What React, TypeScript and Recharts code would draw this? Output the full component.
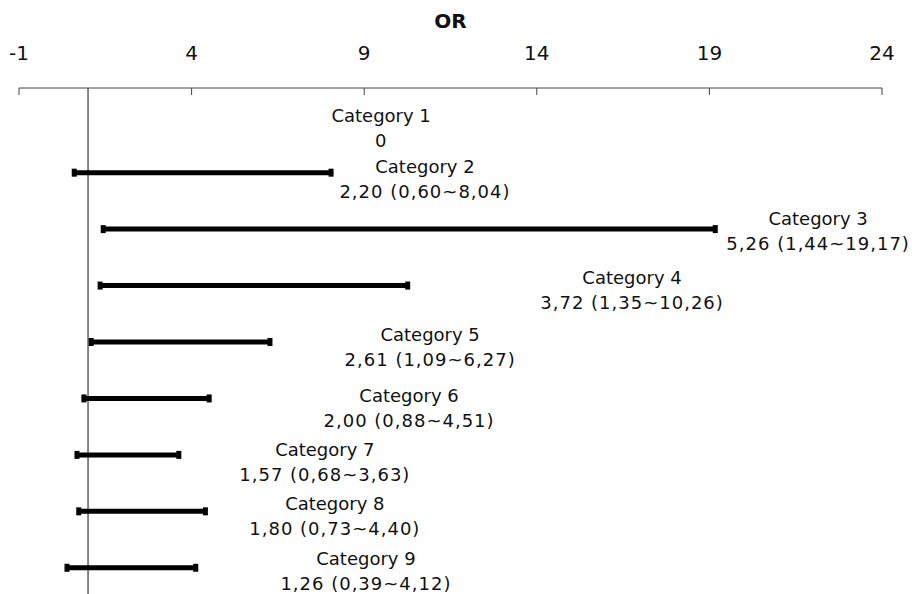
import {
    ScatterChart,
    Scatter,
    XAxis,
    YAxis,
    ErrorBar,
    ReferenceLine,
} from 'recharts';

// Odds ratios with 95% CI, Category 1 is the reference group
const categories = [
    'Category 1', 'Category 2', 'Category 3', 'Category 4', 'Category 5',
    'Category 6', 'Category 7', 'Category 8', 'Category 9',
];
const oddsRatio = [0, 2.2, 5.26, 3.72, 2.61, 2.0, 1.57, 1.8, 1.26];
const ciLower = [null, 0.6, 1.44, 1.35, 1.09, 0.88, 0.68, 0.73, 0.39];
const ciUpper = [null, 8.04, 19.17, 10.26, 6.27, 4.51, 3.63, 4.4, 4.12];
const xTicks = [-1, 4, 9, 14, 19, 24];

// where each text block sits: x in OR units, y in row units
const labelX = [9.49, 10.76, 22.15, 16.76, 10.91, 10.3, 7.86, 8.15, 9.05];
const labelRow = [1.21, 2.12, 3.04, 4.07, 5.08, 6.17, 7.13, 8.09, 9.06];

const fmt = (v: number) => v.toFixed(2).replace('.', ',');

const barData = categories
    .map((name, i) => ({
        name,
        x: oddsRatio[i],
        y: i + 1,
        lo: ciLower[i],
        hi: ciUpper[i],
    }))
    .filter(d => d.lo != null && d.hi != null)
    .map(d => ({ ...d, err: [d.x - (d.lo as number), (d.hi as number) - d.x] }));

const labelData = categories.map((name, i) => ({
    name,
    x: labelX[i],
    y: labelRow[i],
    text: ciLower[i] == null
        ? String(oddsRatio[i])
        : `${fmt(oddsRatio[i])} (${fmt(ciLower[i] as number)}~${fmt(ciUpper[i] as number)})`,
}));

const AxisTick = ({ x, y, payload }: any) => (
    <g>
        <text
            x={x}
            y={y - 28}
            textAnchor="middle"
            fontFamily="DejaVu Sans"
            fontSize={20}
            fill="#111"
        >
            {payload.value}
        </text>
        <line x1={x} x2={x} y1={y} y2={y + 7} stroke="#444" />
    </g>
);

const LabelBlock = ({ cx, cy, payload }: any) => (
    <g fontFamily="DejaVu Sans" fontSize={18} fill="#111">
        <text x={cx} y={cy - 12.5 + 6.5} textAnchor="middle">{payload.name}</text>
        <text x={cx} y={cy + 12.5 + 6.5} textAnchor="middle" letterSpacing={1}>
            {payload.text}
        </text>
    </g>
);

export default function App() {
    return (
        <div style={{ position: 'absolute', left: 0, top: 0, width: 912, height: 594, overflow: 'hidden', background: '#fff' }}>
            <div
                style={{
                    position: 'absolute',
                    left: 19,
                    width: 863,
                    top: 9,
                    textAlign: 'center',
                    fontFamily: 'DejaVu Sans',
                    fontWeight: 'bold',
                    fontSize: 20,
                    color: '#111',
                }}
            >
                OR
            </div>
            <ScatterChart
                width={912}
                height={596}
                margin={{ top: 0, right: 30, bottom: 0, left: 19 }}
            >
                <XAxis
                    type="number"
                    dataKey="x"
                    orientation="top"
                    domain={[-1, 24]}
                    ticks={xTicks}
                    height={88}
                    tickSize={0}
                    tickMargin={0}
                    tickLine={false}
                    tick={<AxisTick />}
                    axisLine={{ stroke: '#444' }}
                />
                <YAxis
                    type="number"
                    dataKey="y"
                    domain={[0.5, 9.5]}
                    reversed
                    hide
                />
                <ReferenceLine x={1} stroke="#111" strokeWidth={1} />
                <Scatter data={barData} isAnimationActive={false} shape={() => <g />}>
                    <ErrorBar
                        dataKey="err"
                        direction="x"
                        width={4}
                        strokeWidth={5}
                        stroke="#000"
                        isAnimationActive={false}
                    />
                </Scatter>
                <Scatter data={labelData} isAnimationActive={false} shape={<LabelBlock />} />
            </ScatterChart>
        </div>
    );
}
